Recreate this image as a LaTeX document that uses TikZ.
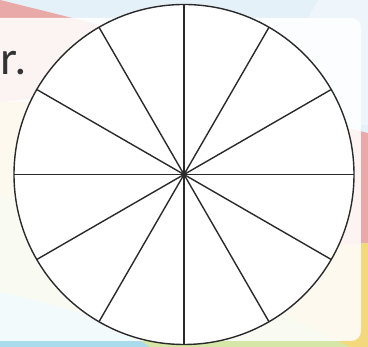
\documentclass[tikz,border=0pt]{standalone}
\usepackage{fontspec}
\setmainfont{Lato}
\definecolor{bgblue}{HTML}{E4F1F8}
\definecolor{bgblueL}{HTML}{EEF6FB}
\definecolor{bgpink}{HTML}{E8A9A8}
\definecolor{bgyellow}{HTML}{F3D87E}
\definecolor{bgstrip}{HTML}{A9DBED}
\definecolor{bggreen}{HTML}{D5E6A6}
\definecolor{ink}{HTML}{2A2A2A}
\definecolor{txtc}{HTML}{333333}
\tikzset{
  card/.style={fill=white, fill opacity=0.87, rounded corners=10pt},
  wheelstyle/.style={circle, draw=ink, fill=white, line width=1.4pt, inner sep=0pt, outer sep=0pt, minimum size=340pt},
  spoke/.style={draw=ink, line width=1.4pt},
  label/.style={text=txtc, font=\fontsize{45}{50}\selectfont, inner sep=0pt, anchor=base west}
}
\begin{document}
\begin{tikzpicture}[x=1pt,y=-1pt]
\useasboundingbox (0,0) rectangle (368,347);
\clip (0,0) rectangle (368,347);
% background shapes
\fill[bgblue] (0,0) rectangle (368,347);
\fill[bgblueL] (318,0) -- (368,0) -- (368,125) -- (250,125) -- cycle;
\fill[bgpink] (0,0) -- (290,72) -- (0,102) -- cycle;
\fill[bgyellow] (0,102) -- (200,100) -- (200,205) -- (0,196) -- cycle;
\fill[bgpink] (368,133) -- (280,112) -- (280,250) -- (368,243) -- cycle;
\fill[bggreen] (0,196) -- (200,205) -- (300,290) -- (368,347) -- (0,347) -- cycle;
\fill[bgyellow] (368,243) -- (280,250) -- (230,285) -- (350,347) -- (368,347) -- cycle;
\fill[bgstrip] (0,292) .. controls (60,305) and (110,320) .. (150,347) -- (0,347) -- cycle;
% card
\path[card] (-20,18) rectangle (361,341);
% text
\node[label] (txt) at (0.5,75) {r.};
% wheel
\node[wheelstyle] (wheel) at (184,174.5) {};
\foreach \a in {0,30,...,330}{
  \draw[spoke] (wheel.center) -- (wheel.\a);
}
\end{tikzpicture}
\end{document}
